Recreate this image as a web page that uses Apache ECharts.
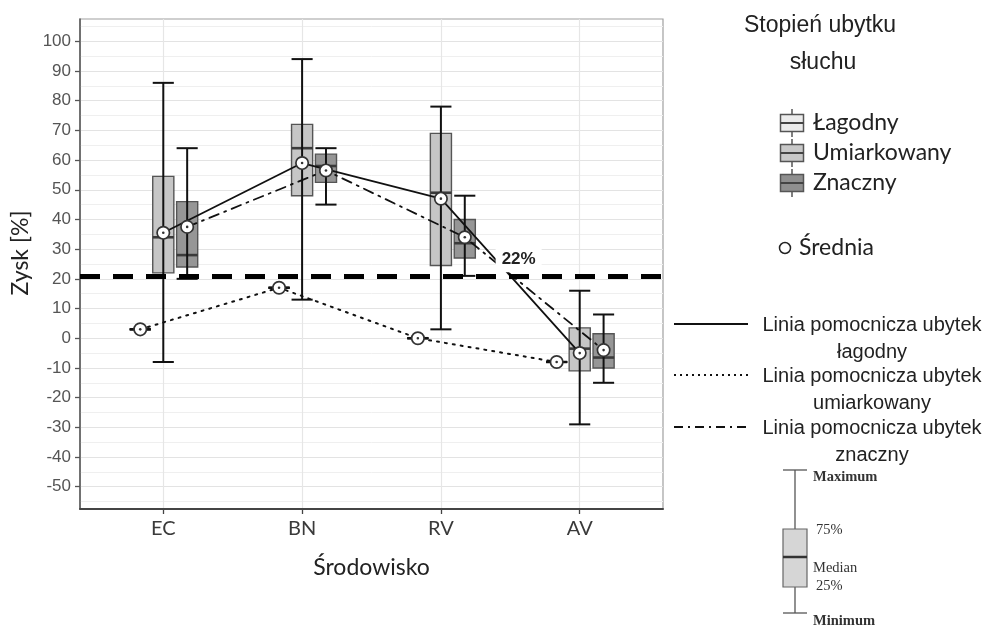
<!DOCTYPE html>
<html>
<head>
<meta charset="utf-8">
<script src="https://cdn.jsdelivr.net/npm/echarts@6/dist/echarts.min.js"></script>
<style>html,body{margin:0;padding:0;background:#fff}#chart{width:985px;height:626px}</style>
</head>
<body>
<div id="chart"></div>
<script>
// ---------- DATA ----------
const categories = ['EC', 'BN', 'RV', 'AV'];
const yTickValues = [-50, -40, -30, -20, -10, 0, 10, 20, 30, 40, 50, 60, 70, 80, 90, 100];
const yMinorValues = [-55, -45, -35, -25, -15, -5, 5, 15, 25, 35, 45, 55, 65, 75, 85, 95, 105];

// Łagodny (centre boxes, solid helper line)
const lagodnyMin    = [-8, 13, 3, -29];
const lagodnyQ1     = [22, 48, 24.5, -11];
const lagodnyMedian = [34, 64, 49, -3.5];
const lagodnyQ3     = [54.5, 72, 69, 3.5];
const lagodnyMax    = [86, 94, 78, 16];
const lagodnyMean   = [35.5, 59, 47, -5];

// Umiarkowany (collapsed boxes, dotted helper line)
const umiarkowanyMin    = [3, 17, 0, -8];
const umiarkowanyQ1     = [3, 17, 0, -8];
const umiarkowanyMedian = [3, 17, 0, -8];
const umiarkowanyQ3     = [3, 17, 0, -8];
const umiarkowanyMax    = [3, 17, 0, -8];
const umiarkowanyMean   = [3, 17, 0, -8];

// Znaczny (right boxes, dash-dot helper line)
const znacznyMin    = [20, 45, 21, -15];
const znacznyQ1     = [24, 52.5, 27, -10];
const znacznyMedian = [28, 58, 32, -6.5];
const znacznyQ3     = [46, 62, 40, 1.5];
const znacznyMax    = [64, 64, 48, 8];
const znacznyMean   = [37.5, 56.5, 34, -4];

const thresholdValue = 21;
const thresholdLabel = '22%';
const thresholdLabelPos = [3.56, 26.6];

// ---------- LAYOUT ----------
const BOX_W = 0.152;
const OFF_L = 0, OFF_U = -0.166, OFF_Z = 0.172;
const X_MIN = 0.4, X_MAX = 4.6, Y_MIN = -57.5, Y_MAX = 107.5;

function boxSeries(name, mins, q1s, meds, q3s, maxs, offset, fill) {
  return {
    type: 'custom', name: name, z: 3,
    data: categories.map((c, i) => [i + 1, mins[i], q1s[i], meds[i], q3s[i], maxs[i]]),
    renderItem: function (params, api) {
      const xv = api.value(0) + offset;
      const half = api.size([BOX_W, 0])[0] / 2;
      const p = (v) => api.coord([xv, v]);
      const cx = p(api.value(1))[0];
      const yMin = p(api.value(1))[1], yQ1 = p(api.value(2))[1], yMed = p(api.value(3))[1],
            yQ3 = p(api.value(4))[1], yMax = p(api.value(5))[1];
      return {
        type: 'group',
        children: [
          { type: 'rect', shape: { x: cx - half, y: yQ3, width: 2 * half, height: yQ1 - yQ3 },
            style: { fill: fill, stroke: '#555', lineWidth: 1.4 } },
          { type: 'line', shape: { x1: cx - half, y1: yMed, x2: cx + half, y2: yMed },
            style: { stroke: '#3a3a3a', lineWidth: 2.6 } },
          { type: 'line', shape: { x1: cx, y1: yMin, x2: cx, y2: yMax },
            style: { stroke: '#111', lineWidth: 2 } },
          { type: 'line', shape: { x1: cx - half, y1: yMax, x2: cx + half, y2: yMax },
            style: { stroke: '#111', lineWidth: 2 } },
          { type: 'line', shape: { x1: cx - half, y1: yMin, x2: cx + half, y2: yMin },
            style: { stroke: '#111', lineWidth: 2 } }
        ]
      };
    }
  };
}

function meanSeries(name, means, offset) {
  return {
    type: 'custom', name: name, z: 6,
    data: categories.map((c, i) => [i + 1, means[i]]),
    renderItem: function (params, api) {
      const pt = api.coord([api.value(0) + offset, api.value(1)]);
      return {
        type: 'group',
        children: [
          { type: 'circle', shape: { cx: pt[0], cy: pt[1], r: 6.2 },
            style: { fill: '#fff', stroke: '#333', lineWidth: 1.7 } },
          { type: 'circle', shape: { cx: pt[0], cy: pt[1], r: 1.3 },
            style: { fill: '#333' } }
        ]
      };
    }
  };
}

function helperLine(name, means, offset, type, width) {
  return {
    type: 'line', name: name, z: 4, symbol: 'none',
    data: categories.map((c, i) => [i + 1 + offset, means[i]]),
    lineStyle: { color: '#111', width: width, type: type, cap: 'round' },
    silent: true
  };
}

const chart = echarts.init(document.getElementById('chart'));

const lagLine = helperLine('Linia pomocnicza ubytek łagodny', lagodnyMean, OFF_L, 'solid', 1.8);
lagLine.markLine = {
  silent: true, symbol: ['none', 'none'], z: 5,
  label: { show: false },
  lineStyle: { color: '#000', width: 5, type: [20, 13] },
  data: [{ yAxis: thresholdValue }]
};
lagLine.markPoint = {
  silent: true, z: 7,
  symbol: 'rect', symbolSize: [46, 26],
  itemStyle: { color: '#fff' },
  label: { show: true, position: 'inside', formatter: thresholdLabel,
           fontFamily: 'Liberation Sans', fontWeight: 'bold', fontSize: 17, color: '#222' },
  data: [{ coord: thresholdLabelPos }]
};

// ---------- LEGEND (graphic) ----------
const legendFont = 'Lato';
const g = [];
g.push({ type: 'text', left: 822 - 78, top: 14, style: { text: 'Stopień ubytku', font: '23px "Liberation Sans"', fill: '#222' } });
g.push({ type: 'text', x: 823, y: 63, style: { text: 'słuchu', font: '23px "Liberation Sans"', fill: '#222', align: 'center', verticalAlign: 'middle' } });
const legBoxes = [['Łagodny', '#ececec', 123], ['Umiarkowany', '#c8c8c8', 153], ['Znaczny', '#8f8f8f', 183]];
legBoxes.forEach(function (b) {
  const cy = b[2];
  g.push({ type: 'line', shape: { x1: 792, y1: cy - 14, x2: 792, y2: cy + 14 }, style: { stroke: '#555', lineWidth: 1.5 } });
  g.push({ type: 'rect', shape: { x: 780.5, y: cy - 8.5, width: 23, height: 17 }, style: { fill: b[1], stroke: '#555', lineWidth: 1.5 } });
  g.push({ type: 'line', shape: { x1: 780.5, y1: cy, x2: 803.5, y2: cy }, style: { stroke: '#444', lineWidth: 2 } });
  g.push({ type: 'text', x: 813, y: cy, style: { text: b[0], font: '23px ' + legendFont, fill: '#222', verticalAlign: 'middle' } });
});
g.push({ type: 'circle', shape: { cx: 785, cy: 248, r: 5.5 }, style: { fill: '#fff', stroke: '#222', lineWidth: 1.5 } });
g.push({ type: 'text', x: 799, y: 248, style: { text: 'Średnia', font: '23px ' + legendFont, fill: '#222', verticalAlign: 'middle' } });

const lineLeg = [
  [324, 'solid', 'Linia pomocnicza ubytek\nłagodny'],
  [375, [2, 4], 'Linia pomocnicza ubytek\numiarkowany'],
  [427, [9, 5, 2, 5], 'Linia pomocnicza ubytek\nznaczny']
];
lineLeg.forEach(function (l) {
  g.push({ type: 'line', shape: { x1: 674, y1: l[0], x2: 748, y2: l[0] }, style: { stroke: '#111', lineWidth: 2, lineDash: l[1] === 'solid' ? null : l[1] } });
  g.push({ type: 'text', x: 872, y: l[0] - 12, style: { text: l[2], font: '20px "Liberation Sans"', fill: '#222', align: 'center', verticalAlign: 'top', lineHeight: 27 } });
});

// explanatory box key
g.push({ type: 'line', shape: { x1: 795, y1: 470, x2: 795, y2: 613 }, style: { stroke: '#555', lineWidth: 1.3 } });
g.push({ type: 'line', shape: { x1: 783, y1: 470, x2: 807, y2: 470 }, style: { stroke: '#555', lineWidth: 1.3 } });
g.push({ type: 'line', shape: { x1: 783, y1: 613, x2: 807, y2: 613 }, style: { stroke: '#555', lineWidth: 1.3 } });
g.push({ type: 'rect', shape: { x: 783, y: 529, width: 24, height: 58 }, style: { fill: '#d6d6d6', stroke: '#666', lineWidth: 1.2 } });
g.push({ type: 'line', shape: { x1: 783, y1: 557, x2: 807, y2: 557 }, style: { stroke: '#333', lineWidth: 2.5 } });
[['Maximum', 813, 477, 'bold'], ['75%', 816, 530, 'normal'], ['Median', 813, 568, 'normal'], ['25%', 816, 586, 'normal'], ['Minimum', 813, 621, 'bold']].forEach(function (t) {
  g.push({ type: 'text', x: t[1], y: t[2], style: { text: t[0], font: t[3] + ' 14.5px "Liberation Serif"', fill: '#333', verticalAlign: 'middle' } });
});

const option = {
  backgroundColor: '#fff',
  animation: false,
  grid: { left: 80, right: 322, top: 19, bottom: 117, show: true, borderColor: '#a0a0a0', borderWidth: 1.2 },
  xAxis: {
    type: 'value', min: X_MIN, max: X_MAX,
    name: 'Środowisko', nameLocation: 'middle', nameGap: 47,
    nameTextStyle: { fontFamily: 'Lato', fontSize: 23, color: '#222' },
    axisLine: { show: true, onZero: false, lineStyle: { color: '#444', width: 2 } },
    axisTick: { show: true, length: 5, customValues: [1, 2, 3, 4], lineStyle: { color: '#444', width: 1.3 } },
    axisLabel: { customValues: [1, 2, 3, 4], formatter: function (v) { return categories[Math.round(v) - 1] || ''; },
                 margin: 10, fontFamily: 'Lato', fontSize: 20, color: '#3a3a3a' },
    splitLine: { show: true, lineStyle: { color: '#e6e6e6', width: 1.2 } }
  },
  yAxis: [{
    type: 'value', min: Y_MIN, max: Y_MAX,
    name: 'Zysk [%]', nameLocation: 'middle', nameGap: 40, nameRotate: 90,
    nameTextStyle: { fontFamily: 'Lato', fontSize: 23, color: '#222', padding: [0, 0, 0, 22] },
    axisLine: { show: true, onZero: false, lineStyle: { color: '#555', width: 1.5 } },
    axisTick: { show: true, length: 5, customValues: yTickValues, lineStyle: { color: '#555', width: 1.3 } },
    axisLabel: { customValues: yTickValues, margin: 9, fontFamily: 'Liberation Sans', fontSize: 17, color: '#555' },
    splitLine: { show: true, lineStyle: { color: '#e3e3e3', width: 1.2 } }
  }, {
    type: 'value', min: Y_MIN, max: Y_MAX, position: 'left',
    axisLine: { show: false },
    axisTick: { show: false, customValues: yMinorValues },
    axisLabel: { show: false, customValues: yMinorValues },
    splitLine: { show: true, lineStyle: { color: '#efefef', width: 1 } }
  }],
  series: [
    boxSeries('Łagodny', lagodnyMin, lagodnyQ1, lagodnyMedian, lagodnyQ3, lagodnyMax, OFF_L, '#c6c6c6'),
    boxSeries('Umiarkowany', umiarkowanyMin, umiarkowanyQ1, umiarkowanyMedian, umiarkowanyQ3, umiarkowanyMax, OFF_U, '#c6c6c6'),
    boxSeries('Znaczny', znacznyMin, znacznyQ1, znacznyMedian, znacznyQ3, znacznyMax, OFF_Z, '#969696'),
    lagLine,
    helperLine('Linia pomocnicza ubytek umiarkowany', umiarkowanyMean, OFF_U, [2, 6], 2),
    helperLine('Linia pomocnicza ubytek znaczny', znacznyMean, OFF_Z, [10, 6, 2, 6], 1.8),
    meanSeries('Średnia Łagodny', lagodnyMean, OFF_L),
    meanSeries('Średnia Umiarkowany', umiarkowanyMean, OFF_U),
    meanSeries('Średnia Znaczny', znacznyMean, OFF_Z)
  ],
  graphic: g
};
chart.setOption(option);
</script>
</body>
</html>
